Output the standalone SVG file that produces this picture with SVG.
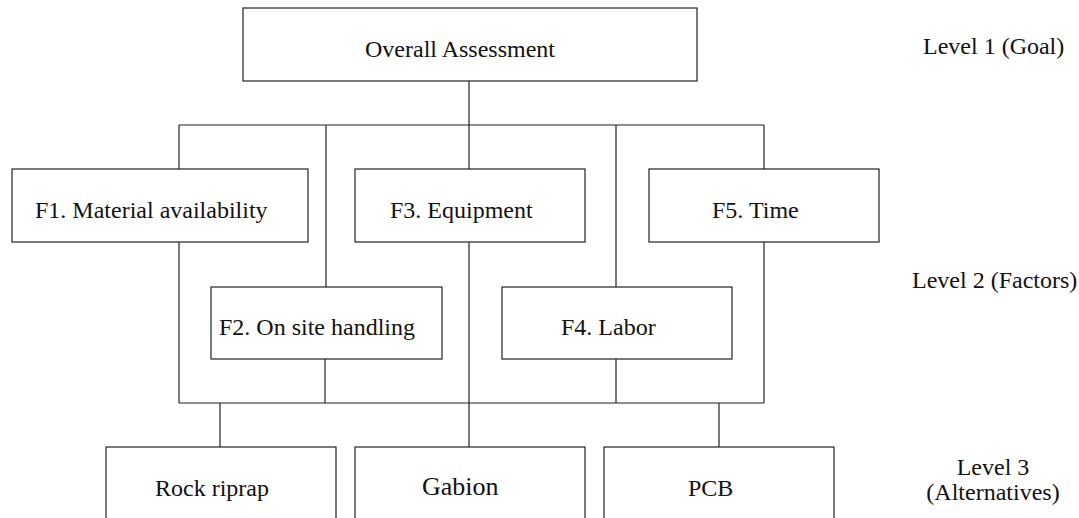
<svg xmlns="http://www.w3.org/2000/svg" width="1079" height="518" viewBox="0 0 1079 518">
<style>
rect{fill:#fff;stroke:#222;stroke-width:1.2}
line{stroke:#222;stroke-width:1.2}
text{font-family:"Liberation Serif","Times New Roman","DejaVu Serif",serif;font-size:24px;fill:#111}
text.big{font-size:26px}
</style>
<rect x="0" y="0" width="1079" height="518" style="stroke:none"/>
<g id="connectors">
<line x1="469" y1="81" x2="469" y2="125"/>
<line x1="179" y1="125" x2="764" y2="125"/>
<line x1="179" y1="125" x2="179" y2="169"/>
<line x1="326" y1="125" x2="326" y2="287"/>
<line x1="469" y1="125" x2="469" y2="169"/>
<line x1="616" y1="125" x2="616" y2="287"/>
<line x1="764" y1="125" x2="764" y2="169"/>
<line x1="179" y1="242" x2="179" y2="403"/>
<line x1="325" y1="359" x2="325" y2="403"/>
<line x1="469" y1="242" x2="469" y2="447"/>
<line x1="616" y1="359" x2="616" y2="403"/>
<line x1="764" y1="242" x2="764" y2="403"/>
<line x1="179" y1="403" x2="764" y2="403"/>
<line x1="220" y1="403" x2="220" y2="447"/>
<line x1="719" y1="403" x2="719" y2="447"/>
</g>
<g id="goal"><rect x="243" y="8" width="454" height="73"/><text x="365" y="57">Overall Assessment</text></g>
<g id="f1"><rect x="12" y="169" width="296" height="73"/><text x="35" y="218">F1. Material availability</text></g>
<g id="f3"><rect x="355" y="169" width="230" height="73"/><text x="390" y="218">F3. Equipment</text></g>
<g id="f5"><rect x="649" y="169" width="230" height="73"/><text x="712" y="218">F5. Time</text></g>
<g id="f2"><rect x="211" y="287" width="231" height="72"/><text x="219" y="335">F2. On site handling</text></g>
<g id="f4"><rect x="502" y="287" width="230" height="72"/><text x="561" y="335">F4. Labor</text></g>
<g id="rock"><rect x="106" y="447" width="230" height="80"/><text x="155" y="496">Rock riprap</text></g>
<g id="gabion"><rect x="355" y="447" width="230" height="80"/><text class="big" x="422" y="495">Gabion</text></g>
<g id="pcb"><rect x="604" y="447" width="230" height="80"/><text x="688" y="496">PCB</text></g>
<g id="labels">
<text x="923" y="54">Level 1 (Goal)</text>
<text x="912" y="288">Level 2 (Factors)</text>
<text x="993" y="475" text-anchor="middle">Level 3</text>
<text x="993" y="500" text-anchor="middle">(Alternatives)</text>
</g>
</svg>
